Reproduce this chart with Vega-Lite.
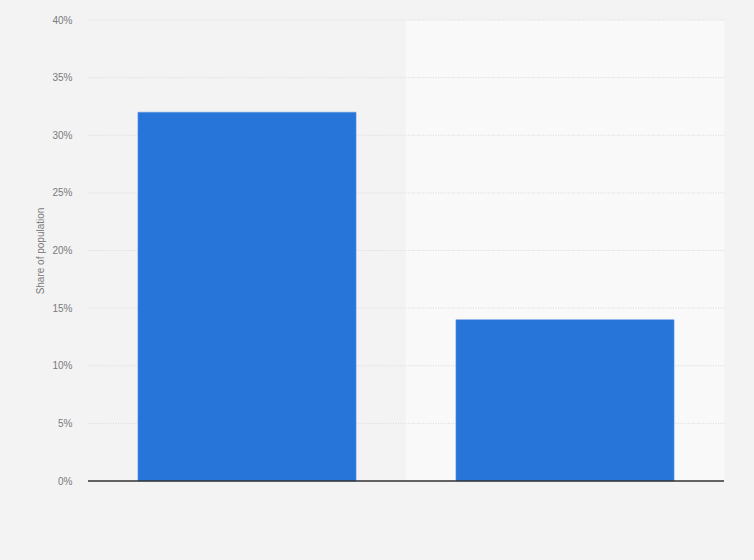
{
  "$schema": "https://vega.github.io/schema/vega-lite/v6.json",
  "width": 636,
  "height": 461,
  "autosize": {"type": "none"},
  "padding": {"left": 88, "top": 20, "right": 30, "bottom": 79},
  "background": "#f3f3f3",
  "config": {
    "view": {"stroke": null},
    "font": "Liberation Sans"
  },
  "datasets": {
    "main": [
      {"category": "Group A", "share": 0.32, "band": "odd"},
      {"category": "Group B", "share": 0.14, "band": "even"}
    ],
    "grid": [
      {"tick": 0.05}, {"tick": 0.1}, {"tick": 0.15}, {"tick": 0.2},
      {"tick": 0.25}, {"tick": 0.3}, {"tick": 0.35}, {"tick": 0.4}
    ]
  },
  "layer": [
    {
      "data": {"name": "main"},
      "mark": {"type": "bar", "width": {"band": 1.46}},
      "encoding": {
        "x": {
          "field": "category",
          "type": "nominal",
          "sort": null,
          "scale": {"paddingInner": 0.314, "paddingOuter": 0.157},
          "axis": {"title": null, "labels": false, "ticks": false, "domain": false, "grid": false}
        },
        "color": {
          "field": "band",
          "type": "nominal",
          "scale": {"domain": ["odd", "even"], "range": ["#f3f3f3", "#f9f9f9"]},
          "legend": null
        }
      }
    },
    {
      "data": {"name": "grid"},
      "mark": {"type": "rule", "color": "#d9d9d9", "strokeWidth": 1, "strokeDash": [1, 1.5]},
      "encoding": {
        "y": {"field": "tick", "type": "quantitative"},
        "x": {"value": 0},
        "x2": {"value": 636}
      }
    },
    {
      "data": {"name": "main"},
      "mark": {"type": "bar", "color": "#2775d9", "stroke": "#5a95e3", "strokeWidth": 0.5},
      "encoding": {
        "x": {"field": "category", "type": "nominal", "sort": null},
        "y": {
          "field": "share",
          "type": "quantitative",
          "scale": {"domain": [0, 0.4]},
          "axis": {
            "title": "Share of population",
            "titleFont": "Liberation Sans",
            "titleFontSize": 10,
            "titleFontWeight": "normal",
            "titleColor": "#7a7a7a",
            "titlePadding": 6,
            "format": ".0%",
            "values": [0, 0.05, 0.1, 0.15, 0.2, 0.25, 0.3, 0.35, 0.4],
            "labelOverlap": false,
            "labelFontSize": 10,
            "labelColor": "#7a7a7a",
            "labelPadding": 16,
            "ticks": false,
            "domain": false,
            "grid": false
          }
        }
      }
    },
    {
      "data": {"name": "main"},
      "mark": {"type": "rule", "color": "#333333", "strokeWidth": 1},
      "encoding": {
        "y": {"datum": 0, "type": "quantitative"},
        "x": {"value": 0},
        "x2": {"value": 636}
      }
    }
  ]
}
